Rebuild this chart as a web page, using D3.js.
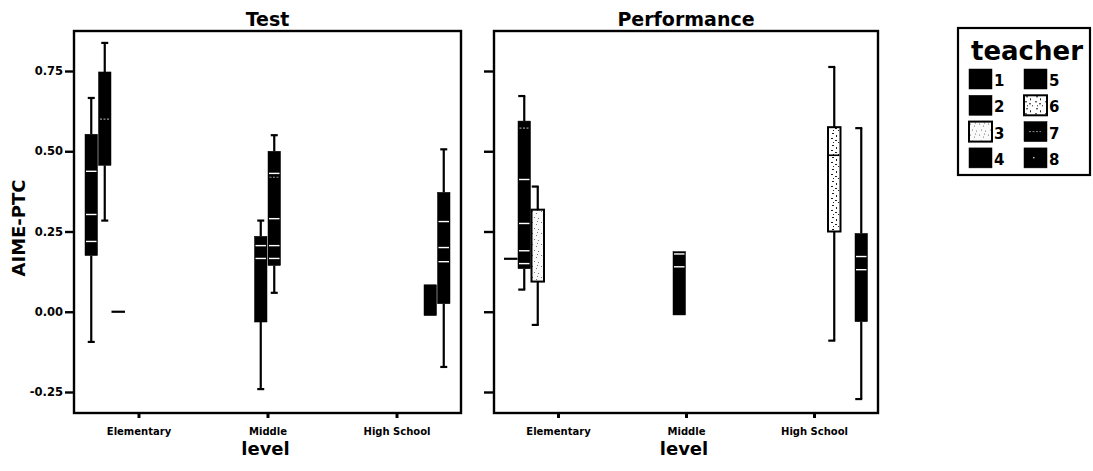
<!DOCTYPE html>
<html>
<head>
<meta charset="utf-8">
<script src="https://cdn.jsdelivr.net/npm/d3@7"></script>
<style>
  html, body { margin: 0; padding: 0; background: #fff; }
  svg { display: block; }
  text { font-family: "DejaVu Sans", Verdana, sans-serif; font-weight: bold; fill: #000; }
</style>
</head>
<body>
<svg id="chart" width="1093" height="471"></svg>
<script>
// ---------- data ----------
const levels = ["Elementary", "Middle", "High School"];
const teachers = ["1", "2", "3", "4", "5", "6", "7", "8"];
const panelNames = ["Test", "Performance"];
const yTicks = [-0.25, 0, 0.25, 0.5, 0.75];
const yTitle = "AIME-PTC";
const xTitle = "level";
const legendTitle = "teacher";

// level, teacher, lower whisker, q1, q3, upper whisker, inner lines, faint lines
const testBoxes = [
  { level: "Elementary",  teacher: "1", lo: -0.094, q1: 0.175, q3: 0.553, hi: 0.666, lines: [0.4375, 0.303, 0.219], faint: [] },
  { level: "Elementary",  teacher: "2", lo: 0.284,  q1: 0.456, q3: 0.747, hi: 0.8375, lines: [], faint: [0.60] },
  { level: "Elementary",  teacher: "3", lo: 0.0,    q1: 0.0,   q3: 0.0,   hi: 0.0,   lines: [], faint: [] },
  { level: "Middle",      teacher: "4", lo: -0.241, q1: -0.032, q3: 0.235, hi: 0.284, lines: [0.206, 0.166], faint: [] },
  { level: "Middle",      teacher: "5", lo: 0.059,  q1: 0.144, q3: 0.500, hi: 0.550, lines: [0.431, 0.29, 0.206, 0.166], faint: [0.419] },
  { level: "High School", teacher: "7", lo: -0.012, q1: -0.012, q3: 0.084, hi: 0.084, lines: [], faint: [] },
  { level: "High School", teacher: "8", lo: -0.172, q1: 0.025, q3: 0.372, hi: 0.506, lines: [0.281, 0.200, 0.156], faint: [] }
];
const perfBoxes = [
  { level: "Elementary",  teacher: "1", lo: 0.165,  q1: 0.165, q3: 0.165, hi: 0.165, lines: [], faint: [] },
  { level: "Elementary",  teacher: "2", lo: 0.069,  q1: 0.134, q3: 0.594, hi: 0.672, lines: [0.412, 0.275, 0.19, 0.15], faint: [0.572] },
  { level: "Elementary",  teacher: "3", lo: -0.041, q1: 0.094, q3: 0.318, hi: 0.390, lines: [], faint: [] },
  { level: "Middle",      teacher: "4", lo: -0.010, q1: -0.010, q3: 0.1875, hi: 0.1875, lines: [0.18, 0.14], faint: [] },
  { level: "High School", teacher: "6", lo: -0.090, q1: 0.250, q3: 0.575, hi: 0.7625, lines: [0.4875], faint: [] },
  { level: "High School", teacher: "8", lo: -0.272, q1: -0.031, q3: 0.244, hi: 0.572, lines: [0.172, 0.131], faint: [] }
];

// ---------- layout ----------
const svg = d3.select("#chart");
const frameTop = 31, frameBottom = 413;
const panels = [
  { name: panelNames[0], x0: 74,  x1: 461, data: testBoxes, labels: true,  capLeft: false },
  { name: panelNames[1], x0: 494, x1: 878, data: perfBoxes, labels: false, capLeft: true }
];

const y = d3.scaleLinear().domain([-0.25, 0.75]).range([392, 71]);
const fillPattern = { "3": "url(#spk3)", "6": "url(#spk6)" };
const boxFill = t => fillPattern[t] || "#000";
const lineColor = t => fillPattern[t] ? "#000" : "#fff";

// patterns for the light teachers
const defs = svg.append("defs");
const p3 = defs.append("pattern").attr("id", "spk3").attr("patternUnits", "userSpaceOnUse")
  .attr("width", 9).attr("height", 11);
p3.append("rect").attr("width", 9).attr("height", 11).attr("fill", "#fafafa");
[[1,2],[5,4],[3,8],[7,9],[6,1]].forEach(([a,b]) =>
  p3.append("rect").attr("x", a).attr("y", b).attr("width", 1).attr("height", 1).attr("fill", "#777"));
const p6 = defs.append("pattern").attr("id", "spk6").attr("patternUnits", "userSpaceOnUse")
  .attr("width", 10).attr("height", 12);
p6.append("rect").attr("width", 10).attr("height", 12).attr("fill", "#fff");
[[2,1,2,1],[6,3,1,2],[1,6,2,1],[5,8,2,1],[8,10,1,1],[3,10,1,1]].forEach(([a,b,w,h]) =>
  p6.append("rect").attr("x", a).attr("y", b).attr("width", w).attr("height", h).attr("fill", "#222"));

panels.forEach(p => {
  const g = svg.append("g");
  const x = d3.scalePoint().domain(levels).range([p.x0, p.x1]).padding(0.5);
  const dodge = d3.scaleBand().domain(teachers).range([-54, 54]);
  const bw = dodge.bandwidth();

  // boxes
  const boxes = g.selectAll("g.box").data(p.data).join("g").attr("class", "box");
  boxes.each(function(d) {
    const bx = x(d.level) + dodge(d.teacher);
    const cx = bx + bw / 2;
    const s = d3.select(this);
    const white = !!fillPattern[d.teacher];
    // whiskers
    if (d.hi > d.q3) {
      s.append("line").attr("x1", cx).attr("x2", cx).attr("y1", y(d.hi)).attr("y2", y(d.q3))
        .attr("stroke", "#000").attr("stroke-width", 2.2);
      s.append("line").attr("x1", p.capLeft ? cx - 6 : cx - 3.5).attr("x2", p.capLeft ? cx + 1 : cx + 3.5)
        .attr("y1", y(d.hi)).attr("y2", y(d.hi)).attr("stroke", "#000").attr("stroke-width", 2.2);
    }
    if (d.lo < d.q1) {
      s.append("line").attr("x1", cx).attr("x2", cx).attr("y1", y(d.q1)).attr("y2", y(d.lo))
        .attr("stroke", "#000").attr("stroke-width", 2.2);
      s.append("line").attr("x1", p.capLeft ? cx - 6 : cx - 3.5).attr("x2", p.capLeft ? cx + 1 : cx + 3.5)
        .attr("y1", y(d.lo)).attr("y2", y(d.lo)).attr("stroke", "#000").attr("stroke-width", 2.2);
    }
    if (d.q3 > d.q1) {
      s.append("rect").attr("x", bx + 0.5).attr("y", y(d.q3))
        .attr("width", bw - 1).attr("height", y(d.q1) - y(d.q3))
        .attr("fill", boxFill(d.teacher))
        .attr("stroke", "#000").attr("stroke-width", white ? 2 : 0.5);
    } else {
      // degenerate box: a single dash
      s.append("line").attr("x1", bx).attr("x2", bx + bw).attr("y1", y(d.q1)).attr("y2", y(d.q1))
        .attr("stroke", "#000").attr("stroke-width", 2.2);
    }
    d.lines.forEach(v => {
      s.append("line").attr("x1", bx + 1.5).attr("x2", bx + bw - 1.5).attr("y1", y(v)).attr("y2", y(v))
        .attr("stroke", lineColor(d.teacher)).attr("stroke-width", white ? 1.6 : 1.4);
    });
    d.faint.forEach(v => {
      s.append("line").attr("x1", bx + 2).attr("x2", bx + bw - 2).attr("y1", y(v)).attr("y2", y(v))
        .attr("stroke", "#999").attr("stroke-width", 1.2).attr("stroke-dasharray", "2,1.5");
    });
  });

  // frame
  g.append("rect").attr("x", p.x0).attr("y", frameTop)
    .attr("width", p.x1 - p.x0).attr("height", frameBottom - frameTop)
    .attr("fill", "none").attr("stroke", "#000").attr("stroke-width", 2.4);

  // y axis
  const ya = d3.axisLeft(y).tickValues(yTicks).tickSize(p.labels ? 8 : 9).tickPadding(2)
    .tickFormat(p.labels ? (d => d.toFixed(2)) : "");
  const yg = g.append("g").attr("transform", `translate(${p.x0 - 1},0)`).call(ya);
  yg.select(".domain").remove();
  yg.selectAll(".tick line").attr("stroke", "#000").attr("stroke-width", 2.4);
  yg.selectAll(".tick text").style("font-size", "11.5px").attr("fill", "#000");

  // x axis
  const xa = d3.axisBottom(x).tickSize(5).tickPadding(10);
  const xg = g.append("g").attr("transform", `translate(0,${frameBottom})`).call(xa);
  xg.select(".domain").remove();
  xg.selectAll(".tick line").attr("stroke", "#000").attr("stroke-width", 3);
  xg.selectAll(".tick text").style("font-size", "10px").attr("fill", "#000");

  // titles
  const mid = (p.x0 + p.x1) / 2;
  g.append("text").attr("x", mid).attr("y", 26).attr("text-anchor", "middle")
    .style("font-size", "19px").text(p.name);
  g.append("text").attr("x", mid - 2).attr("y", 455).attr("text-anchor", "middle")
    .style("font-size", "18px").text(xTitle);
});

// y title
svg.append("text").attr("transform", "translate(25,228) rotate(-90)")
  .attr("text-anchor", "middle").style("font-size", "18px").text(yTitle);

// ---------- legend ----------
const lg = svg.append("g");
lg.append("rect").attr("x", 958).attr("y", 28).attr("width", 132).attr("height", 147)
  .attr("fill", "#fff").attr("stroke", "#000").attr("stroke-width", 2.2);
lg.append("text").attr("x", 971).attr("y", 60).style("font-size", "26px").text(legendTitle);
const items = lg.selectAll("g.item").data(teachers).join("g").attr("class", "item")
  .attr("transform", (t, i) => `translate(${i < 4 ? 969 : 1024},${69 + (i % 4) * 26.3})`);
items.append("rect").attr("width", 23).attr("height", 20)
  .attr("fill", t => boxFill(t)).attr("stroke", "#000").attr("stroke-width", t => fillPattern[t] ? 2 : 0.5);
items.filter(t => t === "7").append("line").attr("x1", 5).attr("x2", 17).attr("y1", 10).attr("y2", 10)
  .attr("stroke", "#888").attr("stroke-width", 1).attr("stroke-dasharray", "2,1.5");
items.filter(t => t === "8").append("rect").attr("x", 9).attr("y", 9).attr("width", 1.5).attr("height", 1.5)
  .attr("fill", "#bbb");
items.append("text").attr("x", 25).attr("y", 17).style("font-size", "15px").text(t => t);
</script>
</body>
</html>
